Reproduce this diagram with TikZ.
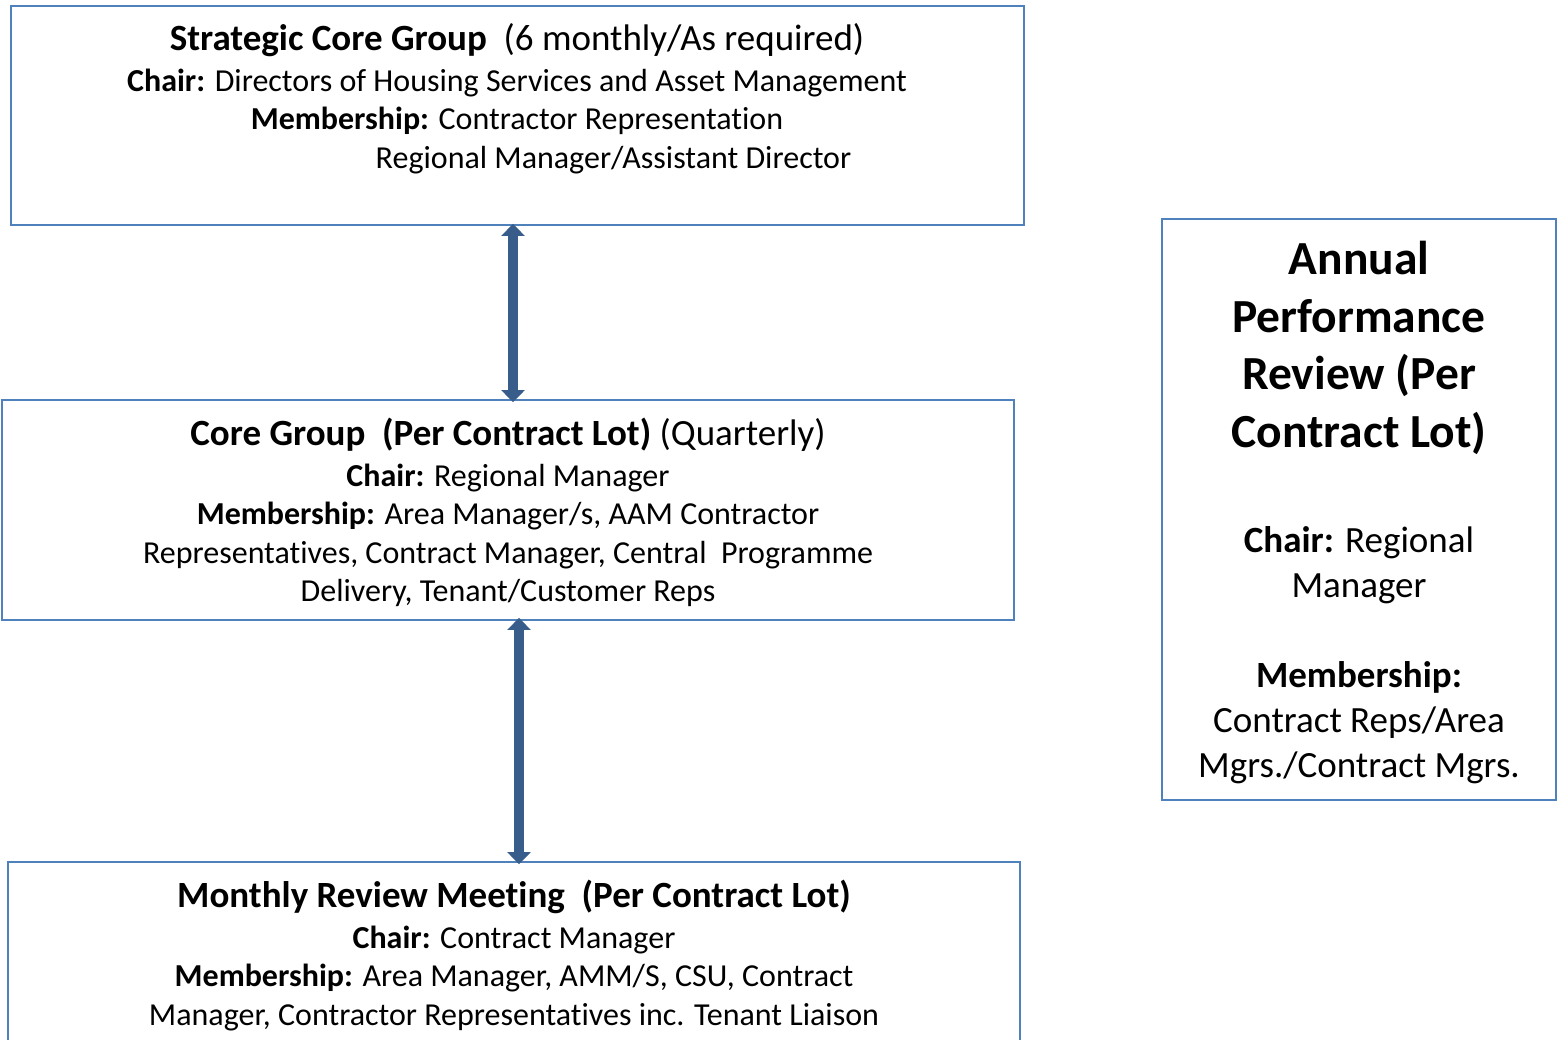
\documentclass[tikz,border=0pt]{standalone}
\usepackage{fontspec}
\setmainfont{Carlito}[Ligatures={NoCommon}]
\usetikzlibrary{arrows.meta}
\definecolor{boxc}{RGB}{79,129,189}
\definecolor{arrowc}{RGB}{56,93,138}
\tikzset{
  box/.style={draw=boxc, line width=1.8pt, rectangle, inner sep=0pt},
  txt/.style={inner sep=0pt, align=center, text=black},
  dblarrow/.style={draw=arrowc, line width=10pt,
    {Triangle[width=23pt,length=12pt]}-{Triangle[width=23pt,length=12pt]}}
}
\begin{document}
\begin{tikzpicture}[x=1pt,y=-1pt]
\clip (0,0) rectangle (1557,1039);
\fill[white] (0,0) rectangle (1557,1039);

\node[box, minimum width=1013pt, minimum height=219pt] (b1) at (517.5,115.5) {};
\node[box, minimum width=1012pt, minimum height=220pt] (b2) at (508,510) {};
\node[box, minimum width=1012pt, minimum height=200pt] (b3) at (514,962) {};
\node[box, minimum width=394pt, minimum height=581pt] (b4) at (1359,509.5) {};

\node[txt, anchor=north, font=\fontsize{32}{38.5}\selectfont] (t1) at (517,23) {%
{\fontsize{37}{38.5}\selectfont\textbf{Strategic Core Group}\ \ (6 monthly/As required)}\\[2.5pt]
\textbf{Chair:} Directors of Housing Services and Asset Management\\
\textbf{Membership:} Contractor Representation\\
\hspace*{193pt}Regional Manager/Assistant Director};

\node[txt, anchor=north, font=\fontsize{32}{38.5}\selectfont] (t2) at (508,418) {%
{\fontsize{37}{38.5}\selectfont\textbf{Core Group\ \ (Per Contract Lot)} (Quarterly)}\\[2pt]
\textbf{Chair:} Regional Manager\\
\textbf{Membership:} Area Manager/s, AAM Contractor\\
Representatives, Contract Manager, Central\ \ Programme\\
Delivery, Tenant/Customer Reps};

\node[txt, anchor=north, font=\fontsize{32}{38.5}\selectfont] (t3) at (514,880) {%
{\fontsize{37}{38.5}\selectfont\textbf{Monthly Review Meeting\ \ (Per Contract Lot)}}\\[2pt]
\textbf{Chair:} Contract Manager\\
\textbf{Membership:} Area Manager, AMM/S, CSU, Contract\\
Manager, Contractor Representatives inc. Tenant Liaison};

\node[txt, anchor=north, font=\fontsize{47.5}{57.5}\selectfont\bfseries] (t4) at (1359,241) {%
Annual\\Performance\\Review (Per\\Contract Lot)};

\node[txt, anchor=north, font=\fontsize{37}{45}\selectfont] (t5) at (1359,526) {%
\textbf{Chair:} Regional\\Manager\\[45pt]
\textbf{Membership:}\\Contract Reps/Area\\Mgrs./Contract Mgrs.};

\draw[dblarrow] ([xshift=-4.5pt,yshift=2pt]b1.south) -- ([xshift=5pt,yshift=-3pt]b2.north);
\draw[dblarrow] ([xshift=11pt,yshift=3pt]b2.south) -- ([xshift=5pt,yshift=-3pt]b3.north);
\end{tikzpicture}
\end{document}
